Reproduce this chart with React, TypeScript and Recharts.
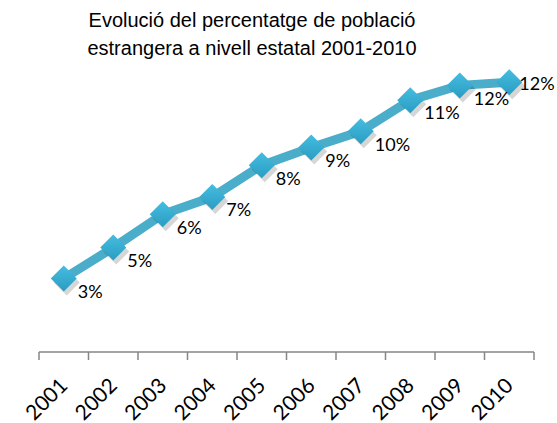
import React from "react";
import { LineChart, Line, XAxis, YAxis, LabelList } from "recharts";

const years = ["2001", "2002", "2003", "2004", "2005", "2006", "2007", "2008", "2009", "2010"];
const foreignShare = [3.33, 4.73, 6.24, 7.02, 8.46, 9.27, 10.0, 11.41, 12.08, 12.22];

const data = years.map((year, i) => ({ year, value: foreignShare[i] }));

const W = 557;
const H = 423;
const MARGIN = { top: 43, right: 23, left: 39, bottom: 0 };
const AXIS_H = 71;
const STEP = (W - MARGIN.left - MARGIN.right) / years.length;
const LINE_COLOR = "#4aadc9";
const LABEL_FONT = "Lato, 'Open Sans', sans-serif";

function Diamond(props: any) {
  const { cx, cy, index } = props;
  if (cx == null || cy == null) return <g key={index} />;
  const r = 13;
  const pts = (dx: number, dy: number) =>
    `${cx + dx},${cy - r + dy} ${cx + r + dx},${cy + dy} ${cx + dx},${cy + r + dy} ${cx - r + dx},${cy + dy}`;
  return (
    <g key={index}>
      <polygon points={pts(3, 4)} fill="#000" fillOpacity={0.16} />
      <polygon points={pts(0, 0)} fill="url(#diamondFill)" />
    </g>
  );
}

function PctLabel(props: any) {
  const { x, y, value, index } = props;
  const last = index === years.length - 1;
  return (
    <text
      x={x + (last ? 10 : 14)}
      y={y + (last ? 1 : 13)}
      dy="0.35em"
      textAnchor="start"
      fontFamily={LABEL_FONT}
      fontSize={18}
      fill="#000"
    >
      {`${Math.round(Number(value))}%`}
    </text>
  );
}

function YearTick(props: any) {
  const { x, y, payload, index } = props;
  const axisY = y - 8;
  const left = x - STEP / 2;
  const ax = x + 5;
  const ay = axisY + 35;
  return (
    <g>
      <line x1={left} y1={axisY} x2={left} y2={axisY + 8} stroke="#868686" strokeWidth={1.5} />
      {index === years.length - 1 && (
        <line x1={x + STEP / 2} y1={axisY} x2={x + STEP / 2} y2={axisY + 8} stroke="#868686" strokeWidth={1.5} />
      )}
      <text
        x={ax}
        y={ay}
        textAnchor="end"
        transform={`rotate(-45, ${ax}, ${ay})`}
        fontFamily={LABEL_FONT}
        fontSize={21}
        fill="#000"
      >
        {payload.value}
      </text>
    </g>
  );
}

export default function App() {
  return (
    <div style={{ position: "absolute", left: 0, top: 0, width: W, height: H, background: "#fff", overflow: "hidden" }}>
      <div
        style={{
          position: "absolute",
          left: 0,
          top: 6,
          width: 504,
          textAlign: "center",
          fontFamily: "'Liberation Sans', Arial, sans-serif",
          fontSize: 20,
          lineHeight: "28px",
          color: "#000",
        }}
      >
        Evolució del percentatge de població
        <br />
        estrangera a nivell estatal 2001-2010
      </div>
      <LineChart width={W} height={H} data={data} margin={MARGIN}>
        <defs>
          <linearGradient id="diamondFill" x1="0" y1="0" x2="0" y2="1">
            <stop offset="0%" stopColor="#45bde0" />
            <stop offset="100%" stopColor="#2a9cc2" />
          </linearGradient>
        </defs>
        <XAxis
          dataKey="year"
          height={AXIS_H}
          padding={{ left: STEP / 2, right: STEP / 2 }}
          axisLine={{ stroke: "#868686", strokeWidth: 1.5 }}
          tickLine={false}
          interval={0}
          tick={<YearTick />}
        />
        <YAxis hide domain={[0, 14]} />
        <Line
          type="linear"
          dataKey="value"
          stroke={LINE_COLOR}
          strokeWidth={9}
          dot={Diamond}
          activeDot={false}
          isAnimationActive={false}
        >
          <LabelList dataKey="value" content={PctLabel} />
        </Line>
      </LineChart>
    </div>
  );
}
